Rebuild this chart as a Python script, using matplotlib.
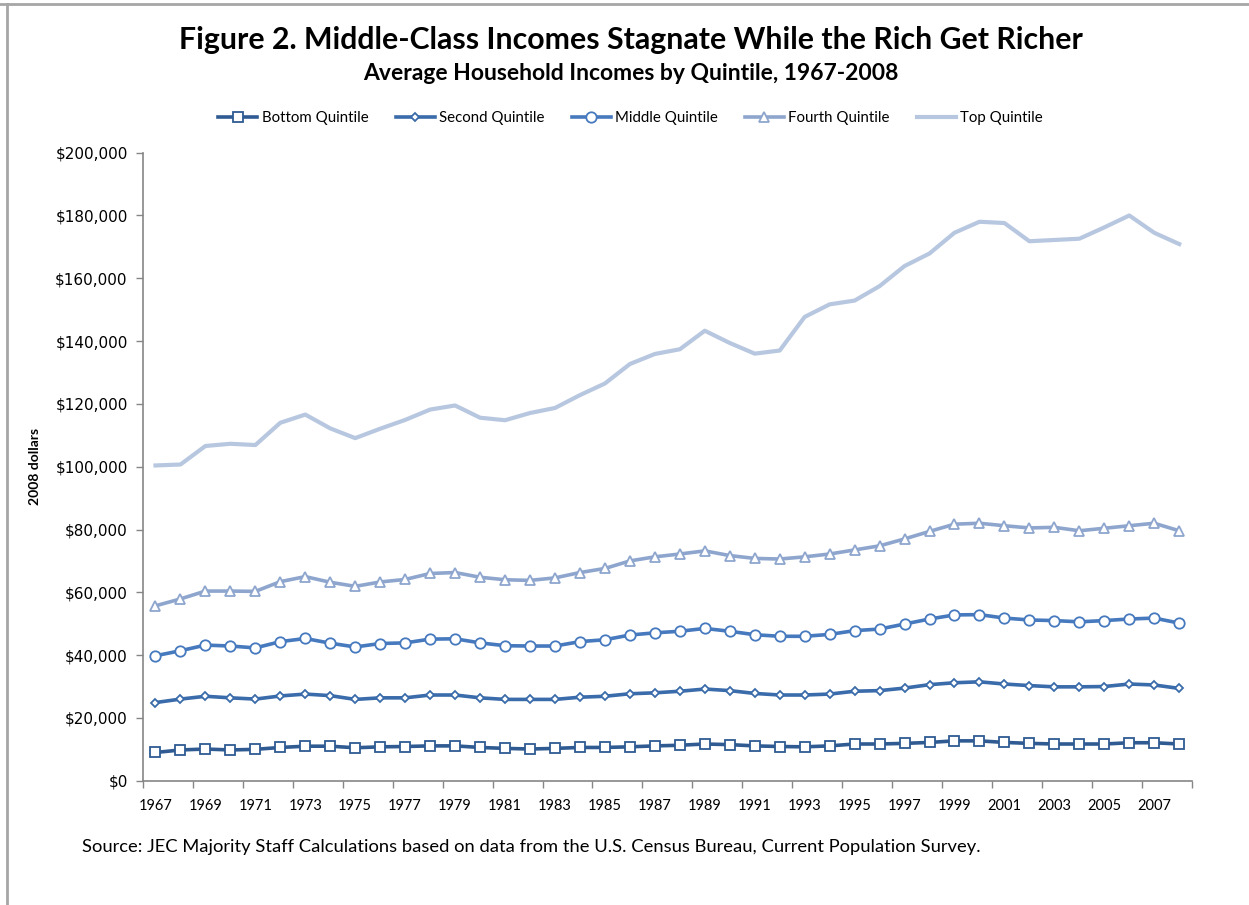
import matplotlib.pyplot as plt
from matplotlib.lines import Line2D
from matplotlib.ticker import FuncFormatter, MultipleLocator

years = list(range(1967, 2009))

bottom = [9.0, 9.8, 10.1, 9.8, 10.0, 10.6, 11.0, 11.0, 10.5, 10.8,
          10.9, 11.1, 11.1, 10.6, 10.3, 10.1, 10.3, 10.6, 10.6, 10.8,
          11.1, 11.3, 11.7, 11.5, 11.1, 10.9, 10.8, 11.1, 11.7, 11.7,
          11.9, 12.2, 12.7, 12.7, 12.2, 11.9, 11.7, 11.7, 11.7, 12.1,
          12.1, 11.7]
second = [24.9, 26.0, 26.9, 26.4, 26.0, 27.0, 27.6, 27.1, 25.9, 26.4,
          26.4, 27.3, 27.3, 26.4, 25.9, 25.9, 25.9, 26.6, 26.9, 27.7,
          28.0, 28.5, 29.2, 28.7, 27.8, 27.3, 27.3, 27.6, 28.5, 28.7,
          29.5, 30.6, 31.2, 31.5, 30.8, 30.3, 29.9, 29.9, 30.0, 30.8,
          30.5, 29.4]
middle = [39.8, 41.4, 43.2, 42.9, 42.3, 44.3, 45.3, 43.8, 42.6, 43.7,
          43.9, 45.1, 45.2, 43.9, 43.0, 42.9, 42.9, 44.3, 44.9, 46.4,
          47.1, 47.6, 48.5, 47.6, 46.5, 46.0, 46.0, 46.6, 47.8, 48.3,
          49.9, 51.5, 52.8, 52.9, 51.8, 51.2, 51.0, 50.6, 51.0, 51.5,
          51.8, 50.2]
fourth = [55.7, 57.9, 60.4, 60.4, 60.3, 63.4, 65.0, 63.2, 61.9, 63.3,
          64.1, 66.0, 66.3, 64.8, 64.0, 63.8, 64.6, 66.3, 67.6, 70.0,
          71.3, 72.2, 73.2, 71.7, 70.8, 70.6, 71.3, 72.2, 73.5, 74.8,
          77.0, 79.4, 81.7, 82.0, 81.2, 80.5, 80.7, 79.6, 80.4, 81.2,
          82.0, 79.6]
top = [100.4, 100.7, 106.6, 107.3, 106.9, 114.0, 116.6, 112.2, 109.1, 112.1,
       114.9, 118.2, 119.5, 115.6, 114.8, 117.1, 118.7, 122.8, 126.5, 132.7,
       135.9, 137.4, 143.3, 139.4, 136.0, 137.0, 147.7, 151.7, 152.9, 157.5,
       163.9, 167.9, 174.5, 178.0, 177.6, 171.8, 172.2, 172.6, 176.2, 180.0,
       174.5, 170.9]

labels = ['Bottom Quintile', 'Second Quintile', 'Middle Quintile',
          'Fourth Quintile', 'Top Quintile']
colors = ['#2F5B92', '#3A6BAA', '#4679BE', '#8EA6CE', '#B8C7E0']
markers = ['s', 'D', 'o', '^', None]
msizes = [7.6, 4.5, 7.5, 7, 0]

sans = ['Lato', 'DejaVu Sans']

fig = plt.figure(figsize=(12.49, 9.05), dpi=100)
ax = fig.add_axes([0.1145, 0.1373, 0.8396, 0.694])

# thousands of dollars -> dollars
for vals, lab, col, mk, ms in zip([bottom, second, middle, fourth, top],
                                  labels, colors, markers, msizes):
    dollars = [v * 1000 for v in vals]
    lw = 3.0 if mk is None else 2.6
    ax.plot(years, dollars, color=col, lw=lw, marker=mk, ms=ms,
            mfc='white', mec=col, mew=1.3, label=lab, solid_joinstyle='round')

ax.set_xlim(1966.5, 2008.5)
ax.set_ylim(0, 200000)
ax.yaxis.set_major_locator(MultipleLocator(20000))
ax.yaxis.set_major_formatter(FuncFormatter(lambda v, p: '${:,.0f}'.format(v)))

# tick marks between categories, labels on every other year
ax.set_xticks([y + 0.5 for y in range(1966, 2009, 2)])
ax.set_xticklabels([])
ax.set_xticks(list(range(1967, 2008, 2)), minor=True)
ax.set_xticklabels([str(y) for y in range(1967, 2008, 2)], minor=True,
                   family=sans, fontsize=10.5)
ax.tick_params(axis='x', which='major', direction='out', length=5,
               color='#868686', width=1)
ax.tick_params(axis='x', which='minor', length=0, pad=13)
ax.tick_params(axis='y', direction='out', length=5, color='#868686',
               width=1, labelsize=11, pad=6)

for side in ['top', 'right']:
    ax.spines[side].set_visible(False)
for side in ['left', 'bottom']:
    ax.spines[side].set_color('#868686')
    ax.spines[side].set_linewidth(1.2)

ax.set_ylabel('2008 dollars', fontsize=10, fontweight='bold', family=sans,
              labelpad=10)

fig.text(0.505, 1 - 40 / 905, 'Figure 2. Middle-Class Incomes Stagnate While the Rich Get Richer',
         ha='center', va='center', fontsize=21.8, fontweight='bold', family=sans)
fig.text(0.505, 1 - 74 / 905, 'Average Household Incomes by Quintile, 1967-2008',
         ha='center', va='center', fontsize=16.5, fontweight='bold', family=sans)

leg = fig.legend(loc='center', bbox_to_anchor=(0.505, 1 - 118 / 905), ncol=5,
                 frameon=False, prop={'family': sans, 'size': 10.8},
                 handlelength=2.6, handletextpad=0.3, columnspacing=1.8)

fig.text(82 / 1249, 1 - 847 / 905,
         'Source: JEC Majority Staff Calculations based on data from the U.S. Census Bureau, Current Population Survey.',
         ha='left', va='center', fontsize=13.2, family=sans)

# frame edges of the chart area
fig.add_artist(Line2D([0, 1], [1 - 4 / 905, 1 - 4 / 905], color='#A6A6A6', lw=2))
fig.add_artist(Line2D([7 / 1249, 7 / 1249], [0, 1 - 4 / 905], color='#A6A6A6', lw=2))

fig.savefig('out.png', dpi=100)
